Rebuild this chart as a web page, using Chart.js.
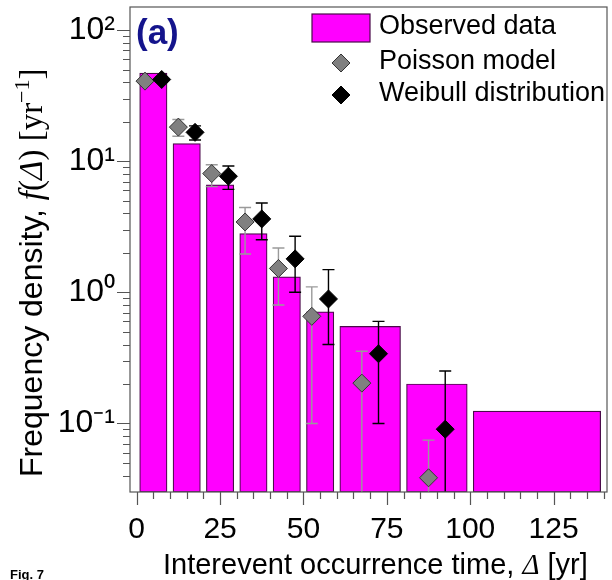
<!DOCTYPE html>
<html>
<head>
<meta charset="utf-8">
<script src="https://cdn.jsdelivr.net/npm/chart.js@4"></script>
<style>
  html, body { margin: 0; padding: 0; background: #fff; }
  #wrap { position: relative; width: 612px; height: 580px; }
  #figTag { position: absolute; left: 10px; top: 567px; font: bold 13px "Liberation Sans", Arial, sans-serif; color: #000; }
</style>
</head>
<body>
<div id="wrap">
  <canvas id="freqChart" width="612" height="580"></canvas>
  <div id="figTag">Fig. 7</div>
</div>
<script>
// interevent time bins [yr]
const binStart = [0, 10, 20, 30, 40, 50, 60, 80, 100];
const binEnd   = [10, 20, 30, 40, 50, 60, 80, 100, 140];
const observed = [47, 13.6, 6.6, 2.8, 1.31, 0.71, 0.55, 0.20, 0.124];

// model estimates with error ranges (no estimate for the last bin)
const poisson     = [40.8, 18.2, 8.05, 3.44, 1.52, 0.656, 0.203, 0.0385];
const poissonLow  = [38.8, 15.5, 6.4, 1.96, 0.80, 0.10, 0.01, 0.01];
const poissonHigh = [42.8, 20.8, 9.4, 4.43, 2.18, 1.10, 0.355, 0.0746];
const weibull     = [42, 16.6, 7.68, 3.63, 1.80, 0.89, 0.34, 0.0904];
const weibullLow  = [40, 14.5, 6.1, 2.52, 1.0, 0.40, 0.10, 0.01];
const weibullHigh = [44, 18.6, 9.2, 4.8, 2.68, 1.49, 0.60, 0.251];

const xTicks = [0, 25, 50, 75, 100, 125];

const SANS = "'Liberation Sans', Arial, sans-serif";
const SERIF = "'Liberation Serif', 'Times New Roman', serif";
Chart.defaults.font.family = SANS;
Chart.defaults.color = '#000';

const sup = { '-': '\u207B', '0': '\u2070', '1': '\u00B9', '2': '\u00B2', '3': '\u00B3' };
const isPow10 = v => Math.abs(v / Math.pow(10, Math.round(Math.log10(v))) - 1) < 1e-6;
const mid = i => (binStart[i] + binEnd[i]) / 2;

// one bar dataset per bin width so each can get its own thickness
const widths = [...new Set(binStart.map((s, i) => binEnd[i] - s))];
const barSets = widths.map(w => ({
  type: 'bar',
  label: 'Observed data',
  stack: 'obs',
  data: observed.map((v, i) => ({ x: mid(i), y: v })).filter((d, i) => binEnd[i] - binStart[i] === w),
  backgroundColor: '#ff00ff',
  borderColor: '#4a0a4a',
  borderWidth: 1.2,
  borderSkipped: false,
  barThickness: ctx => {
    const sx = ctx.chart.scales.x;
    if (!sx) return 10;
    return Math.abs(sx.getPixelForValue(w - 1.8) - sx.getPixelForValue(0));
  },
  order: 3
}));

const errLow = { 'Poisson model': poissonLow, 'Weibull distribution': weibullLow };
const errHigh = { 'Poisson model': poissonHigh, 'Weibull distribution': weibullHigh };

// error bars, drawn just before each point dataset
const errorBars = {
  id: 'errorBars',
  beforeDatasetDraw(chart, args) {
    const ds = chart.data.datasets[args.index];
    if (!errLow[ds.label]) return;
    const { ctx, chartArea: a, scales: { x, y } } = chart;
    ctx.save();
    ctx.beginPath();
    ctx.rect(a.left, a.top, a.right - a.left, a.bottom - a.top);
    ctx.clip();
    ctx.strokeStyle = ds.label === 'Poisson model' ? '#9a9a9a' : '#000';
    ctx.lineWidth = 1.4;
    ds.data.forEach((d, i) => {
      const px = x.getPixelForValue(d.x);
      const lo = y.getPixelForValue(errLow[ds.label][i]);
      const hi = y.getPixelForValue(errHigh[ds.label][i]);
      ctx.beginPath();
      ctx.moveTo(px, lo); ctx.lineTo(px, hi);
      ctx.moveTo(px - 6, lo); ctx.lineTo(px + 6, lo);
      ctx.moveTo(px - 6, hi); ctx.lineTo(px + 6, hi);
      ctx.stroke();
    });
    ctx.restore();
  }
};

// mixed-font text run
function drawRun(ctx, parts) {
  let cx = 0;
  parts.forEach(p => {
    ctx.font = p.f;
    ctx.fillText(p.t, cx, p.dy || 0);
    cx += ctx.measureText(p.t).width;
  });
}

// frame, tick marks, axis titles, legend and panel tag
const decor = {
  id: 'decor',
  afterDraw(chart) {
    const { ctx, chartArea: a, scales: { x, y } } = chart;
    ctx.save();
    ctx.strokeStyle = '#555';
    ctx.lineWidth = 1.2;
    ctx.strokeRect(a.left, a.top, a.right - a.left, a.bottom - a.top);
    ctx.beginPath();
    for (let v = 0; v <= x.max; v += 5) {
      const px = Math.round(x.getPixelForValue(v)) + 0.5;
      const len = xTicks.includes(v) ? 13 : 7;
      ctx.moveTo(px, a.bottom); ctx.lineTo(px, a.bottom + len);
    }
    for (let e = Math.floor(Math.log10(y.min)); e <= Math.ceil(Math.log10(y.max)); e++) {
      for (let m = 1; m <= 9; m++) {
        const v = m * Math.pow(10, e);
        if (v <= y.min * 1.0001 || v >= y.max) continue;
        const py = Math.round(y.getPixelForValue(v)) + 0.5;
        const len = m === 1 ? 13 : 7;
        ctx.moveTo(a.left - len, py); ctx.lineTo(a.left, py);
      }
    }
    ctx.stroke();

    // axis titles
    ctx.fillStyle = '#000';
    ctx.textAlign = 'left';
    ctx.textBaseline = 'alphabetic';
    ctx.save();
    ctx.translate(42, 477);
    ctx.rotate(-Math.PI / 2);
    drawRun(ctx, [
      { t: 'Frequency density, ', f: '32px ' + SANS },
      { t: 'f', f: 'italic 33px ' + SERIF },
      { t: '(', f: '33px ' + SERIF },
      { t: '\u0394', f: 'italic 33px ' + SERIF },
      { t: ') [yr', f: '33px ' + SERIF },
      { t: '\u22121', f: '22px ' + SERIF, dy: -13 },
      { t: ']', f: '33px ' + SERIF }
    ]);
    ctx.restore();
    ctx.save();
    ctx.translate(163, 574);
    drawRun(ctx, [
      { t: 'Interevent occurrence time, ', f: '29px ' + SANS },
      { t: '\u0394', f: 'italic 29px ' + SERIF },
      { t: ' [yr]', f: '29px ' + SANS }
    ]);
    ctx.restore();

    // legend
    const lx = a.right - 295, tx = a.right - 228;
    ctx.fillStyle = '#ff00ff';
    ctx.strokeStyle = '#4a0a4a';
    ctx.lineWidth = 1.2;
    ctx.fillRect(lx, a.top + 7, 58, 28);
    ctx.strokeRect(lx, a.top + 7, 58, 28);
    const diamond = (cx, cy, r, fill, stroke) => {
      ctx.beginPath();
      ctx.moveTo(cx - r, cy); ctx.lineTo(cx, cy - r); ctx.lineTo(cx + r, cy); ctx.lineTo(cx, cy + r);
      ctx.closePath();
      ctx.fillStyle = fill; ctx.fill();
      ctx.strokeStyle = stroke; ctx.lineWidth = 1; ctx.stroke();
    };
    diamond(lx + 29, a.top + 56, 9, '#808080', '#333');
    diamond(lx + 29, a.top + 88, 9, '#000', '#000');
    ctx.fillStyle = '#000';
    ctx.font = '27px ' + SANS;
    ctx.textBaseline = 'middle';
    ctx.fillText('Observed data', tx, a.top + 20);
    ctx.fillText('Poisson model', tx, a.top + 55);
    ctx.fillText('Weibull distribution', tx, a.top + 87);

    ctx.fillStyle = '#14148c';
    ctx.font = 'bold 35px ' + SANS;
    ctx.textBaseline = 'alphabetic';
    ctx.fillText('(a)', a.left + 6, a.top + 37);
    ctx.restore();
  }
};

const chart = new Chart(document.getElementById('freqChart'), {
  type: 'bar',
  data: {
    datasets: [
      {
        type: 'scatter',
        label: 'Weibull distribution',
        data: weibull.map((v, i) => ({ x: mid(i) + 2.5, y: v })),
        pointStyle: 'rectRot',
        pointRadius: 9,
        pointHoverRadius: 9,
        backgroundColor: '#000',
        borderColor: '#000',
        borderWidth: 1,
        order: 1
      },
      {
        type: 'scatter',
        label: 'Poisson model',
        data: poisson.map((v, i) => ({ x: mid(i) - 2.5, y: v })),
        pointStyle: 'rectRot',
        pointRadius: 9,
        pointHoverRadius: 9,
        backgroundColor: '#808080',
        borderColor: '#333',
        borderWidth: 1,
        order: 2
      },
      ...barSets
    ]
  },
  options: {
    responsive: false,
    animation: false,
    layout: { padding: { left: 0, top: 7, right: 5, bottom: 0 } },
    plugins: { legend: { display: false }, tooltip: { enabled: false } },
    scales: {
      x: {
        type: 'linear',
        min: -2,
        max: 141,
        offset: false,
        grid: { display: false, drawTicks: false },
        border: { display: false },
        ticks: {
          stepSize: 25,
          includeBounds: false,
          autoSkip: false,
          maxRotation: 0,
          padding: 20,
          font: { size: 30 },
          callback: v => xTicks.includes(v) ? String(v) : ''
        },
        afterFit: s => { s.height = 88; s.paddingLeft = 0; s.paddingRight = 0; }
      },
      y: {
        type: 'logarithmic',
        min: 0.03,
        max: 150,
        stacked: false,
        grid: { display: false, drawTicks: false },
        border: { display: false },
        ticks: {
          autoSkip: false,
          padding: 15,
          font: { size: 32 },
          callback: v => {
            if (!isPow10(v)) return '';
            const e = Math.round(Math.log10(v));
            return '10' + String(e).split('').map(c => sup[c]).join('');
          }
        },
        afterFit: s => { s.width = 130; s.paddingTop = 0; s.paddingBottom = 0; }
      }
    }
  },
  plugins: [errorBars, decor]
});

// the diamonds may overlap the frame; don't let them shrink the plot area
chart.data.datasets.forEach((ds, i) => {
  const meta = chart.getDatasetMeta(i);
  if (meta.type === 'scatter') meta.controller.getMaxOverflow = () => 0;
});
chart.update('none');
</script>
</body>
</html>
